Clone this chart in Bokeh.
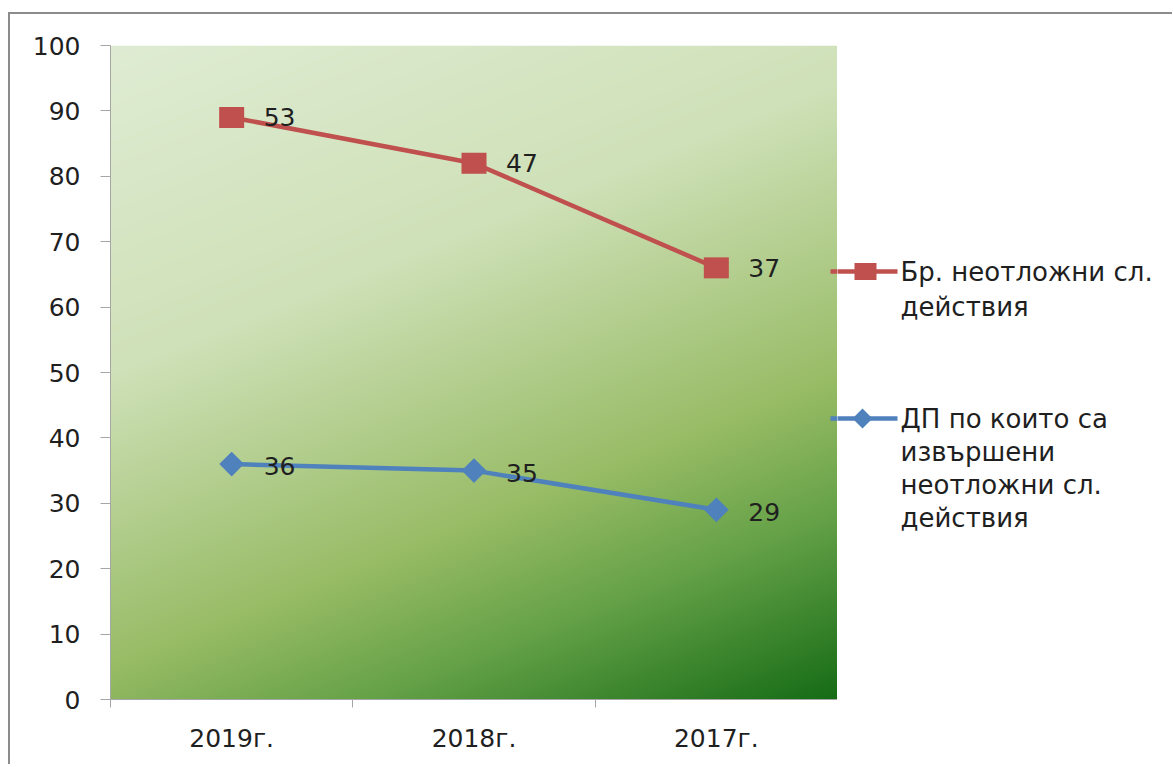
import numpy as np
from bokeh.plotting import figure
from bokeh.layouts import row
from bokeh.models import Range1d, FixedTicker
from bokeh.core.properties import value
from bokeh.embed import file_html
from bokeh.resources import INLINE

# ---------------- data ----------------
categories = ["2019г.", "2018г.", "2017г."]
urgent_actions = [53, 47, 37]          # Бр. неотложни сл. действия (stacked on top)
cases_with_actions = [36, 35, 29]      # ДП по които са извършени неотложни сл. действия
y_ticks = list(range(0, 101, 10))
legend_labels = ["Бр. неотложни сл.\nдействия",
                 "ДП по които са\nизвършени\nнеотложни сл.\nдействия"]

FONT = "DejaVu Sans"
FS = "25px"
LFS = "26px"
RED = "#C0504D"
BLUE = "#4F81BD"
AXIS = "#A6A6A6"
TXT = "#1f1f1f"
BORDER = "#8C8C8C"

n = len(categories)
xs = [i + 0.5 for i in range(n)]
blue_y = list(cases_with_actions)
red_y = [a + b for a, b in zip(urgent_actions, cases_with_actions)]  # stacked line chart

# page geometry of the plot area (frame)
FL, FR, FT, FB = 110, 837, 45, 699
OX, OY = 10, 14   # content origin after margin + border

p = figure(width=FR - OX, height=750, output_backend="svg", toolbar_location=None,
           x_range=Range1d(0, n), y_range=Range1d(0, 100),
           min_border_left=FL - OX, min_border_right=0,
           min_border_top=FT - OY, min_border_bottom=750 - (FT - OY) - (FB - FT))
p.outline_line_color = None
p.grid.visible = False
p.background_fill_color = "white"
p.border_fill_color = "white"

# ---------------- gradient plot area (style only) ----------------
W, H = FR - FL, FB - FT
gx = np.arange(W)[None, :].astype(float)
gy = np.arange(H)[:, None].astype(float)
t = (0.4 * gx + gy) / (0.4 * (W - 1) + (H - 1))
stops_t = [0.0, 0.35, 0.66, 0.8, 1.0]
stops_c = [(223, 236, 211), (207, 225, 184), (152, 188, 102), (102, 162, 72), (22, 108, 22)]
img = np.empty((H, W), dtype=np.uint32)
view = img.view(dtype=np.uint8).reshape((H, W, 4))
for k in range(3):
    view[..., k] = np.interp(t, stops_t, [c[k] for c in stops_c]).astype(np.uint8)
view[..., 3] = 255
img = img[::-1].copy()
p.image_rgba(image=[img], x=0, y=0, dw=n, dh=100)

# ---------------- series ----------------
p.line(xs, red_y, line_color=RED, line_width=4.5)
p.rect(xs, red_y, width=25, height=21, width_units="screen", height_units="screen",
       fill_color=RED, line_color=None)
p.line(xs, blue_y, line_color=BLUE, line_width=4.5)
p.scatter(xs, blue_y, marker="square", angle=np.pi / 4, size=17.5,
          fill_color=BLUE, line_color=None)

p.text(x=xs, y=red_y, text=[str(v) for v in urgent_actions], x_offset=32,
       text_baseline="middle", text_align="left", text_font=value(FONT),
       text_font_size=FS, text_color=TXT)
p.text(x=xs, y=blue_y, text=[str(v) for v in cases_with_actions], x_offset=32, y_offset=2,
       text_baseline="middle", text_align="left", text_font=value(FONT),
       text_font_size=FS, text_color=TXT)

# ---------------- axes ----------------
p.yaxis.ticker = FixedTicker(ticks=y_ticks)
p.yaxis.major_tick_out = 10
p.yaxis.major_tick_in = 0
p.yaxis.minor_tick_line_color = None
p.yaxis.axis_line_color = AXIS
p.yaxis.major_tick_line_color = AXIS
p.yaxis.major_label_standoff = 20
p.yaxis.major_label_text_font = FONT
p.yaxis.major_label_text_font_size = FS
p.yaxis.major_label_text_color = TXT

p.xaxis.ticker = FixedTicker(ticks=xs, minor_ticks=list(range(n + 1)))
p.xaxis.major_label_overrides = {x: c for x, c in zip(xs, categories)}
p.xaxis.major_tick_line_color = None
p.xaxis.major_tick_out = 8
p.xaxis.major_tick_in = 0
p.xaxis.minor_tick_out = 8
p.xaxis.minor_tick_in = 0
p.xaxis.minor_tick_line_color = AXIS
p.xaxis.axis_line_color = AXIS
p.xaxis.major_label_standoff = 16
p.xaxis.major_label_text_font = FONT
p.xaxis.major_label_text_font_size = FS
p.xaxis.major_label_text_color = TXT

# legend line stubs inside the plot area (page x 830 -> frame edge)
def sx(px):
    return (px - FL) / (FR - FL) * n

def sy(py):
    return (FB - py) / (FB - FT) * 100

p.segment(x0=[sx(830)], y0=[sy(271)], x1=[n + 0.1], y1=[sy(271)], line_color=RED, line_width=4.5)
p.segment(x0=[sx(830)], y0=[sy(418)], x1=[n + 0.1], y1=[sy(418)], line_color=BLUE, line_width=4.5)

# ---------------- legend panel (frame aligned with the plot frame; coords = page px) ----------------
LW, LH = 335, 750
leg = figure(width=LW, height=LH, output_backend="svg", toolbar_location=None,
             x_range=Range1d(FR, FR + LW), y_range=Range1d(FB, FT),
             x_axis_location=None, y_axis_location=None,
             min_border=0, min_border_left=0, min_border_right=0,
             min_border_top=FT - OY, min_border_bottom=LH - (FT - OY) - (FB - FT))
leg.outline_line_color = None
leg.grid.visible = False
leg.background_fill_color = "white"
leg.border_fill_color = "white"

# red entry
leg.segment(x0=[FR - 10], y0=[271], x1=[897], y1=[271], line_color=RED, line_width=4.5)
leg.rect(x=[865], y=[271], width=22, height=17, fill_color=RED, line_color=None)
# blue entry
leg.segment(x0=[FR - 10], y0=[418], x1=[897], y1=[418], line_color=BLUE, line_width=4.5)
leg.patch(x=[852, 862, 872, 862], y=[418, 408, 418, 428], fill_color=BLUE, line_color=None)

legend_rows = [(271, 35), (418, 33)]
for label, (y0, step) in zip(legend_labels, legend_rows):
    lines = label.split("\n")
    leg.text(x=[900] * len(lines), y=[y0 + i * step for i in range(len(lines))], text=lines,
             text_baseline="middle", text_align="left", text_font=value(FONT),
             text_font_size=LFS, text_color=TXT)

layout = row(p, leg)
layout.margin = (12, 0, 0, 8)
layout.styles = {"border-top": f"2px solid {BORDER}", "border-left": f"2px solid {BORDER}"}

open("out.html", "w").write(file_html(layout, INLINE))
